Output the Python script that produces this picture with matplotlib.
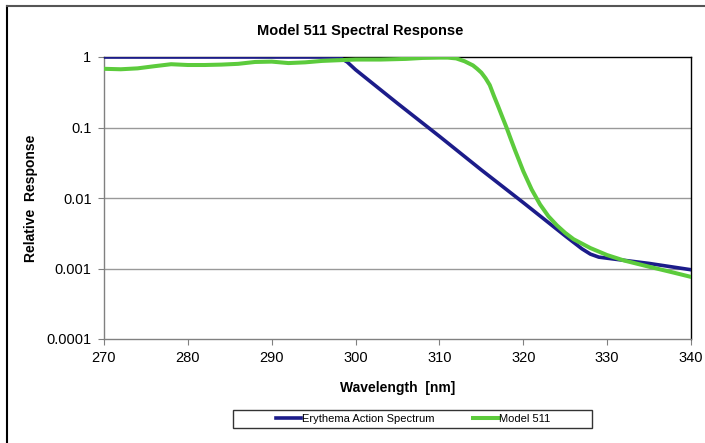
import matplotlib.pyplot as plt
from matplotlib.patches import Rectangle
from matplotlib.lines import Line2D
from matplotlib.ticker import FixedLocator, FixedFormatter, NullLocator

plt.rcParams['font.family'] = ['Liberation Sans', 'DejaVu Sans']

# Erythema action spectrum
ery_wl = [270, 280, 290, 298, 299, 300, 305, 310, 315, 320, 325, 327, 328, 329, 330, 335, 340]
ery_val = [1.0, 1.0, 1.0, 1.0, 0.85, 0.66, 0.22, 0.075, 0.025, 0.0086, 0.0029, 0.0019,
           0.0016, 0.00145, 0.0014, 0.00118, 0.00096]

# Model 511 response
m511_wl = [270, 272, 274, 276, 278, 280, 282, 284, 286, 288, 290, 292, 294, 296, 298,
           300, 303, 306, 308, 310, 311, 312, 313, 314, 314.5, 315, 315.5, 316, 316.5,
           317, 317.5, 318, 318.5, 319, 319.5, 320, 320.5, 321, 322, 323, 324, 325,
           326, 328, 330, 332, 335, 338, 340]
m511_val = [0.68, 0.67, 0.69, 0.74, 0.79, 0.77, 0.77, 0.78, 0.80, 0.85, 0.86, 0.82, 0.84,
            0.88, 0.90, 0.92, 0.92, 0.94, 0.97, 0.98, 0.98, 0.955, 0.87, 0.76, 0.68,
            0.6, 0.5, 0.4, 0.28, 0.2, 0.141, 0.1, 0.069, 0.048, 0.034, 0.024, 0.0178,
            0.0132, 0.0081, 0.0055, 0.0041, 0.0032, 0.0026, 0.00195, 0.00155, 0.0013,
            0.00106, 0.00087, 0.00076]

yticks = [0.0001, 0.001, 0.01, 0.1, 1]
ylabels = ['0.0001', '0.001', '0.01', '0.1', '1']

fig = plt.figure(figsize=(7.05, 4.43), dpi=100)
ax = fig.add_axes([104 / 705, 1 - 339 / 443, 587 / 705, 282 / 443])

ax.plot(ery_wl, ery_val, color='#1c1c8a', lw=2.6, label='Erythema Action Spectrum',
        solid_joinstyle='round', zorder=3)
ax.plot(m511_wl, m511_val, color='#5ccb3c', lw=2.9, label='Model 511',
        solid_joinstyle='round', zorder=4)

ax.set_yscale('log')
ax.set_ylim(0.0001, 1)
ax.set_xlim(270, 340)
ax.yaxis.set_major_locator(FixedLocator(yticks))
ax.yaxis.set_major_formatter(FixedFormatter(ylabels))
ax.yaxis.set_minor_locator(NullLocator())
ax.set_xticks(range(270, 341, 10))

for y in yticks[1:4]:
    ax.axhline(y, color='#999999', lw=1.0, zorder=1)

ax.spines['top'].set_color('black')
ax.spines['right'].set_color('black')
ax.spines['left'].set_color('#808080')
ax.spines['bottom'].set_color('#808080')
for s in ax.spines.values():
    s.set_linewidth(1.0)
ax.tick_params(axis='both', direction='out', length=4, color='#808080',
               labelsize=10.5)
ax.tick_params(axis='y', pad=5)
ax.tick_params(axis='x', pad=4.5)

fig.text(360 / 705, 1 - 31 / 443, 'Model 511 Spectral Response', fontsize=10.5,
         fontweight='bold', ha='center', va='center')
ax.set_xlabel('Wavelength  [nm]', fontsize=10, fontweight='bold', labelpad=11.5)
fig.text(31 / 705, 1 - 198 / 443, 'Relative  Response', fontsize=10, fontweight='bold',
         rotation=90, ha='center', va='center')

leg = fig.legend(loc='center', bbox_to_anchor=(413 / 705, 1 - 419 / 443), ncol=2,
                 fontsize=8, frameon=False, handlelength=2.3, handletextpad=0.05,
                 columnspacing=3.5)

fig.patches.append(Rectangle((233 / 705, 1 - 428 / 443), 359 / 705, 18 / 443,
                             transform=fig.transFigure, fill=False,
                             edgecolor='#333333', lw=1.0))

# outer chart border (left and top only visible)
fig.lines.append(Line2D([7 / 705, 7 / 705], [0, 1 - 6 / 443], transform=fig.transFigure,
                        color='black', lw=1.5))
fig.lines.append(Line2D([7 / 705, 1], [1 - 6 / 443, 1 - 6 / 443], transform=fig.transFigure,
                        color='#555555', lw=1.5))

fig.savefig('out.png', dpi=100)
